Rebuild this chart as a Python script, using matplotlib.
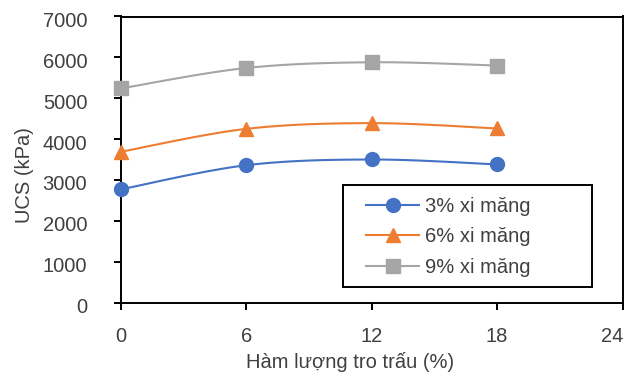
"""UCS vs rice husk ash content, Excel-style smoothed line chart."""

import numpy as np
import matplotlib

matplotlib.use("Agg")
import matplotlib.pyplot as plt
import matplotlib.transforms as mtransforms
from matplotlib.patches import Rectangle

# Data
ash_content = [0, 6, 12, 18]
ucs_3pct = [2770, 3360, 3500, 3380]
ucs_6pct = [3690, 4250, 4390, 4260]
ucs_9pct = [5240, 5740, 5880, 5800]
series_labels = ["3% xi măng", "6% xi măng", "9% xi măng"]

x_ticks = [0, 6, 12, 18, 24]
y_ticks = [0, 1000, 2000, 3000, 4000, 5000, 6000, 7000]

_BLUE = "#4472C4"
_ORANGE = "#ED7D31"
_GRAY = "#A5A5A5"
_TEXT = "#404040"

W, H = 632, 374


def smooth_curve(xs, ys, n=40):
    """Excel-style smoothed line (uniform Catmull-Rom through the points)."""
    p = np.column_stack([xs, ys]).astype(float)
    p = np.vstack([p[0], p, p[-1]])
    out = []
    t = np.linspace(0, 1, n)[:, None]
    for i in range(1, len(p) - 2):
        p0, p1, p2, p3 = p[i - 1], p[i], p[i + 1], p[i + 2]
        c1 = p1 + (p2 - p0) / 6
        c2 = p2 - (p3 - p1) / 6
        seg = ((1 - t) ** 3) * p1 + 3 * ((1 - t) ** 2) * t * c1 + 3 * (1 - t) * t**2 * c2 + t**3 * p2
        out.append(seg if i == 1 else seg[1:])
    out = np.vstack(out)
    return out[:, 0], out[:, 1]


plt.rcParams["font.family"] = ["Liberation Sans", "DejaVu Sans"]
plt.rcParams["font.size"] = 14.5

fig = plt.figure(figsize=(W / 100, H / 100), dpi=100)
ax = fig.add_axes([121 / W, (H - 302.5) / H, 501.5 / W, 286 / H])

styles = [(ucs_3pct, _BLUE, "o", 10), (ucs_6pct, _ORANGE, "^", 10), (ucs_9pct, _GRAY, "s", 10.5)]
handles = []
for (vals, color, marker, ms), label in zip(styles, series_labels):
    sx, sy = smooth_curve(ash_content, vals)
    ax.plot(sx, sy, color=color, linewidth=1.5, zorder=2, clip_on=False)
    ax.plot(ash_content, vals, linestyle="none", marker=marker, markersize=ms,
            color=color, zorder=3, clip_on=False)
    (h,) = ax.plot([], [], color=color, linewidth=1.5, marker=marker, markersize=ms, label=label)
    handles.append(h)

ax.set_xlim(0, 24)
ax.set_ylim(0, 7000)
ax.set_xticks(x_ticks)
ax.set_yticks(y_ticks)

for spine in ax.spines.values():
    spine.set_linewidth(1.4)
    spine.set_color("black")

ax.tick_params(axis="y", direction="out", length=5.3, width=1.4, pad=19, labelcolor=_TEXT)
ax.tick_params(axis="x", direction="out", length=5.0, width=1.4, pad=13, labelcolor=_TEXT)

# y labels sit a little below their ticks, the last x label is kept inside the frame
shift_down = mtransforms.ScaledTranslation(0, -3 / 100, fig.dpi_scale_trans)
for lbl in ax.get_yticklabels():
    lbl.set_transform(lbl.get_transform() + shift_down)
last = ax.get_xticklabels()[-1]
last.set_ha("right")
last.set_transform(last.get_transform() + mtransforms.ScaledTranslation(1 / 100, 0, fig.dpi_scale_trans))

ax.set_xlabel("Hàm lượng tro trấu (%)", color=_TEXT)
ax.xaxis.label.set_va("baseline")
ax.xaxis.set_label_coords((350 - 121) / 501.5, (302.5 - 368.5) / 286)

ax.set_ylabel("UCS (kPa)", color=_TEXT)
ax.yaxis.label.set_va("center")
ax.yaxis.set_label_coords((25 - 121) / 501.5, (302.5 - 175) / 286)

# Legend frame drawn as a plain rectangle so its size matches the reference
fig.patches.append(Rectangle((343 / W, 1 - 287 / H), 249 / W, 102 / H, transform=fig.transFigure,
                             facecolor="white", edgecolor="black", linewidth=1.4, zorder=5))
leg = fig.legend(handles=handles, loc="upper left", bbox_to_anchor=(366 / W, 1 - 197 / H),
                 frameon=False, borderpad=0, borderaxespad=0, handlelength=2.64,
                 handletextpad=0.3, labelspacing=0.57, numpoints=1, labelcolor=_TEXT)
leg.set_zorder(6)

fig.savefig("out.png", dpi=100)
